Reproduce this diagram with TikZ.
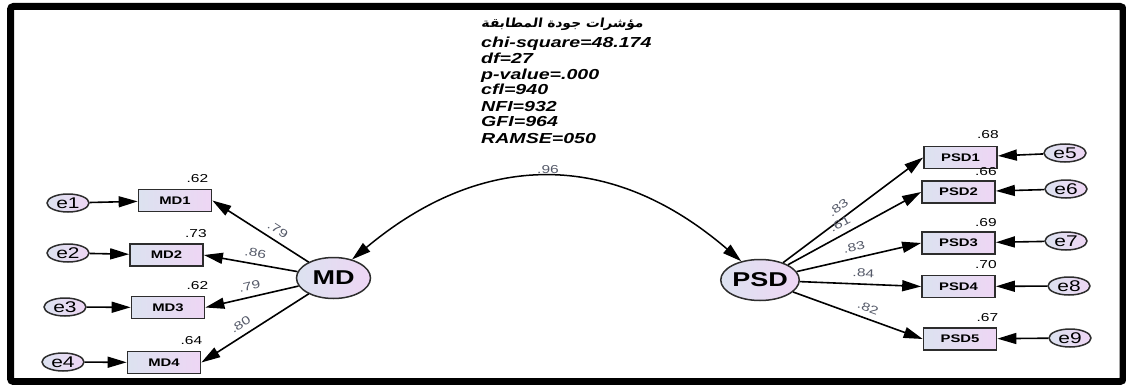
\documentclass[tikz,border=0pt]{standalone}
\usepackage{fontspec}
\usetikzlibrary{arrows.meta,calc,shapes.geometric}
\TeXXeTstate=1
\newfontfamily\af[FakeStretch=1.35]{Liberation Sans}
\newfontfamily\arabicfont[Script=Arabic,FakeStretch=1.1,FakeSlant=0.15]{DejaVu Sans}
\definecolor{boxL}{RGB}{220,226,240}
\definecolor{boxR}{RGB}{238,214,244}
\definecolor{edgec}{RGB}{45,45,45}
\definecolor{lbl}{RGB}{85,90,105}
\begin{document}
\begin{tikzpicture}[x=1pt,y=-1pt,
 obs/.style={draw=edgec, line width=1.7pt, left color=boxL, right color=boxR, minimum width=73pt, minimum height=22pt, inner sep=0pt, font=\af\bfseries\fontsize{11}{11}\selectfont},
 lat/.style={ellipse, draw=edgec, line width=1.5pt, left color=boxL, right color=boxR, minimum width=74pt, minimum height=41pt, inner sep=0pt, font=\af\bfseries\fontsize{20}{20}\selectfont},
 err/.style={ellipse, draw=edgec, line width=1.5pt, left color=boxL, right color=boxR, minimum width=42pt, minimum height=18pt, inner sep=0pt, font=\af\fontsize{15.5}{15.5}\selectfont},
 arr/.style={line width=1.6pt, -{Triangle[length=19pt,width=11pt]}},
 wt/.style={font=\af\fontsize{11.5}{11.5}\selectfont, text=lbl, sloped, above=4pt, inner sep=2pt},
 var/.style={font=\af\fontsize{11.5}{11.5}\selectfont, inner sep=0pt},
 gof/.style={font=\af\bfseries\itshape\fontsize{14.5}{16}\selectfont, anchor=base west, inner sep=0pt}
]
\useasboundingbox (0,0) rectangle (1126,385);
\fill[white] (0,0) rectangle (1126,385);
\draw[line width=7pt, rounded corners=3pt] (10.5,6.5) rectangle (1123,381.5);

% fit indices
\node[gof] (g0) at (481,28) {\arabicfont\upshape\bfseries\fontsize{12.5}{12.5}\selectfont\beginR مؤشرات جودة المطابقة\endR};
\node[gof] (g1) at (481,48) {chi-square=48.174};
\node[gof] (g2) at (481,64) {df=27};
\node[gof] (g3) at (481,80) {p-value=.000};
\node[gof] (g4) at (481,95) {cfl=940};
\node[gof] (g5) at (481,111) {NFI=932};
\node[gof] (g6) at (481,127) {GFI=964};
\node[gof] (g7) at (481,143) {RAMSE=050};

% latent
\node[lat] (MD) at (333.5,278) {MD};
\node[lat] (PSD) at (760,280) {PSD};

% MD indicators
\node[obs] (MD1) at (175,200.5) {MD1};
\node[obs] (MD2) at (166.5,255) {MD2};
\node[obs] (MD3) at (168,307.5) {MD3};
\node[obs] (MD4) at (164,362.5) {MD4};
\node[err] (e1) at (68,203) {e1};
\node[err] (e2) at (68,253) {e2};
\node[err] (e3) at (65,307) {e3};
\node[err] (e4) at (63,362) {e4};

% PSD indicators
\node[obs] (PSD1) at (960.5,157.5) {PSD1};
\node[obs] (PSD2) at (958.5,192) {PSD2};
\node[obs] (PSD3) at (958.5,243) {PSD3};
\node[obs] (PSD4) at (958.5,286.5) {PSD4};
\node[obs] (PSD5) at (960,339) {PSD5};
\node[err] (e5) at (1065,153) {e5};
\node[err] (e6) at (1066,189) {e6};
\node[err] (e7) at (1066,241) {e7};
\node[err] (e8) at (1069,286) {e8};
\node[err] (e9) at (1070,338) {e9};

% variances
\node[var] (v1) at ([xshift=-15pt,yshift=10pt]MD1.north east) {.62};
\node[var] (v2) at ([xshift=-8pt,yshift=10pt]MD2.north east) {.73};
\node[var] (v3) at ([xshift=-8pt,yshift=10pt]MD3.north east) {.62};
\node[var] (v4) at ([xshift=-10pt,yshift=10pt]MD4.north east) {.64};
\node[var] (v5) at ([xshift=-10pt,yshift=11pt]PSD1.north east) {.68};
\node[var] (v6) at ([xshift=-10pt,yshift=9pt]PSD2.north east) {.66};
\node[var] (v7) at ([xshift=-10pt,yshift=9pt]PSD3.north east) {.69};
\node[var] (v8) at ([xshift=-10pt,yshift=10pt]PSD4.north east) {.70};
\node[var] (v9) at ([xshift=-10pt,yshift=10pt]PSD5.north east) {.67};

% loadings
\draw[arr] (MD) -- node[wt,pos=0.38] {.79} (MD1.east);
\draw[arr] (MD) -- node[wt,pos=0.47] {.86} (MD2.east);
\draw[arr] (MD) -- node[wt,pos=0.5] {.79} (MD3.east);
\draw[arr] (MD) -- node[wt,pos=0.58] {.80} (MD4.east);
\draw[arr] (PSD) -- node[wt,pos=0.44] {.83} (PSD1.west);
\draw[arr] (PSD) -- node[wt,pos=0.43] {.61} (PSD2.west);
\draw[arr] (PSD) -- node[wt,pos=0.48] {.83} (PSD3.west);
\draw[arr] (PSD) -- node[wt,pos=0.52] {.84} (PSD4.west);
\draw[arr] (PSD) -- node[wt,pos=0.55] {.82} (PSD5.west);

% errors
\draw[arr] (e1) -- (MD1);
\draw[arr] (e2) -- (MD2);
\draw[arr] (e3) -- (MD3);
\draw[arr] (e4) -- (MD4);
\draw[arr] (e5) -- (PSD1);
\draw[arr] (e6) -- (PSD2);
\draw[arr] (e7) -- (PSD3);
\draw[arr] (e8) -- (PSD4);
\draw[arr] (e9) -- (PSD5);

% covariance
\draw[line width=1.5pt, {Triangle[length=19pt,width=11pt]}-{Triangle[length=19pt,width=11pt]}] (MD.45) .. controls (483,150) and (612,150) .. (PSD.135);
\node[font=\af\fontsize{11.5}{11.5}\selectfont, text=lbl, inner sep=0pt] (c96) at (548,170) {.96};
\end{tikzpicture}
\end{document}
